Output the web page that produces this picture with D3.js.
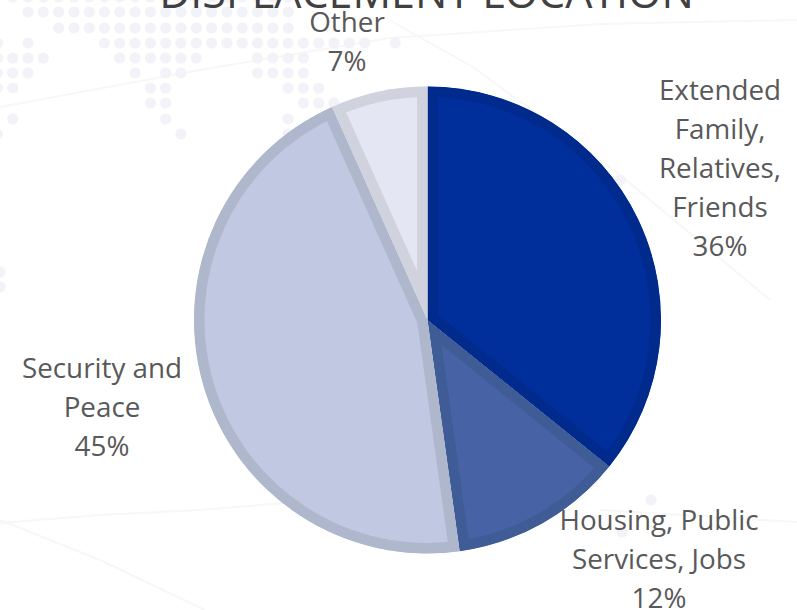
<!DOCTYPE html>
<html><head><meta charset="utf-8">
<script src="https://cdn.jsdelivr.net/npm/d3@7"></script>
<style>html,body{margin:0;padding:0;background:#fff;overflow:hidden}svg{display:block}</style>
</head><body><svg id="c" width="797" height="610"></svg>
<script>
const categories = ["Extended Family, Relatives, Friends","Housing, Public Services, Jobs","Security and Peace","Other"];
const labelLines = [["Extended","Family,","Relatives,","Friends"],["Housing, Public","Services, Jobs"],["Security and","Peace"],["Other"]];
const values = [35.8,12,45.5,6.7];
const percentLabels = ["36%","12%","45%","7%"];
const titleText = "DISPLACEMENT LOCATION";
const fills = ["#002F9B","#4664A5","#C0C9E1","#E4E7F3"];
const strokes = ["#002B8C","#3F5B96","#AEB7CC","#D0D2DE"];
const labelAnchors = [[720,100],[659,530],[102,378],[347,32]];

// faint backdrop: dotted map rows and thin lines
const dotRows = [
 [-3,[-1,0,1,2,3,4,5,6,7,8,9,10,11,12,13,14,15,16,17]],
 [12,[0,1,2,3,4,5,6,7,8,9,10,11,12,13,14,15,16,17]],
 [28,[2,3,4,5,6,7,8,9,10,11,12,13,14,15,16,17]],
 [43,[-2,0,5,6,7,8,9,10,11,12,13,14,15,16,17,18,19,20,21,22,24]],
 [58,[-2,-1,0,1,6,7,8,9,10,11,15,16,17,18]],
 [73,[-2,-1,0,7,9,10,15,16,17,18]],
 [88,[-2,-1,8,9,17,18,19]],
 [103,[8,9,18,19,20]],
 [119,[-1,9,17]],
 [134,[-2,10,17]]];
const looseDots = [[620,180],[651,500],[622,532],[0,272],[0,287]];
const faintLines = [
 [[0,107],[200,70],[390,38],[600,24],[797,20]],
 [[389,20],[473,67],[620,175],[770,300]],
 [[0,523],[100,515],[200,510],[285,503]],
 [[0,520],[100,560],[205,610]],
 [[600,510],[797,522]]];

const svg = d3.select("#c");
const cx = 427.5, cy = 320, R = 233.5, band = 10.5;
const defs = svg.append("defs");
defs.append("filter").attr("id","soft").append("feGaussianBlur").attr("stdDeviation",0.7);
defs.append("filter").attr("id","softer").append("feGaussianBlur").attr("stdDeviation",0.3);
const bg = svg.append("g").attr("filter","url(#soft)");
faintLines.forEach(l => bg.append("path").attr("d", d3.line()(l)).attr("fill","none").attr("stroke","#f7f7f8").attr("stroke-width",2));
dotRows.forEach(([y,ks]) => bg.selectAll(null).data(ks).join("circle")
  .attr("cx",k=>28+15.3*k).attr("cy",y).attr("r",5.6).attr("fill","#f2f2f9"));
bg.selectAll(null).data(looseDots).join("circle").attr("cx",d=>d[0]).attr("cy",d=>d[1]).attr("r",5.6).attr("fill","#f2f2f9");

const font = "'Open Sans', sans-serif";
svg.append("text").attr("x",426.5).attr("y",8).attr("text-anchor","middle")
  .attr("font-family",font).attr("font-size",43).attr("fill","#404040").text(titleText);

const pie = d3.pie().sort(null).value(d=>d);
const arc = d3.arc().innerRadius(0).outerRadius(R);
const arcs = pie(values);
arcs.forEach((a,i)=>{
  defs.append("clipPath").attr("id","s"+i).append("path").attr("transform",`translate(${cx},${cy})`).attr("d",arc(a));
});
const pieG = svg.append("g").attr("filter","url(#softer)");
arcs.forEach((a,i)=>{
  pieG.append("g").attr("clip-path",`url(#s${i})`).append("path")
    .attr("transform",`translate(${cx},${cy})`).attr("d",arc(a))
    .attr("fill",fills[i]).attr("stroke",strokes[i]).attr("stroke-width",band*2).attr("stroke-linejoin","miter");
});

const lh = 39;
categories.forEach((c,i)=>{
  const [x,y] = labelAnchors[i];
  const t = svg.append("text").attr("text-anchor","middle").attr("font-family",font).attr("font-size",27.8).attr("fill","#595959");
  labelLines[i].concat(percentLabels[i]).forEach((ln,j)=>{
    t.append("tspan").attr("x",x).attr("y",y+j*lh).text(ln);
  });
});
</script></body></html>
